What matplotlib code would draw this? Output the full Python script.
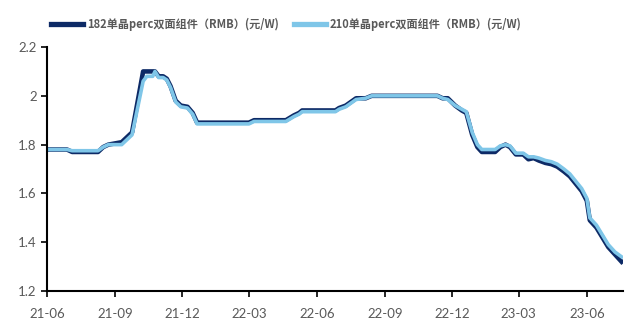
import numpy as np
import pandas as pd
import matplotlib
matplotlib.use("Agg")
import matplotlib.pyplot as plt
import matplotlib.dates as mdates
from matplotlib.ticker import FuncFormatter

plt.rcParams['font.family'] = ['Lato', 'Noto Sans CJK SC', 'DejaVu Sans']

# data
dates = [
    "2021-06-01", "2021-06-28", "2021-07-05", "2021-08-09", "2021-08-16", "2021-08-23",
    "2021-09-10", "2021-09-24", "2021-10-09", "2021-10-14", "2021-10-22", "2021-10-25",
    "2021-10-30", "2021-11-05", "2021-11-10", "2021-11-15", "2021-11-22", "2021-11-29",
    "2021-12-08", "2021-12-15", "2021-12-21", "2022-03-01", "2022-03-08", "2022-04-20",
    "2022-05-01", "2022-05-08", "2022-05-12", "2022-06-26", "2022-07-01", "2022-07-10",
    "2022-07-24", "2022-08-06", "2022-08-14", "2022-11-11", "2022-11-18", "2022-11-25",
    "2022-12-05", "2022-12-14", "2022-12-20", "2022-12-28", "2023-01-04", "2023-01-10",
    "2023-01-28", "2023-02-04", "2023-02-11", "2023-02-17", "2023-02-25", "2023-03-07",
    "2023-03-14", "2023-03-21", "2023-03-28", "2023-04-06", "2023-04-14", "2023-04-22",
    "2023-05-01", "2023-05-09", "2023-05-17", "2023-05-25", "2023-06-01", "2023-06-05",
    "2023-06-14", "2023-06-22", "2023-06-30", "2023-07-09", "2023-07-18",
]
price_182 = [
    1.78, 1.78, 1.77, 1.77, 1.79, 1.80,
    1.81, 1.85, 2.10, 2.10, 2.10, 2.10,
    2.08, 2.08, 2.07, 2.04, 1.98, 1.96,
    1.955, 1.93, 1.89, 1.89, 1.90, 1.90,
    1.92, 1.93, 1.94, 1.94, 1.95, 1.96,
    1.99, 1.99, 2.00, 2.00, 1.99, 1.99,
    1.96, 1.94, 1.93, 1.84, 1.79, 1.77,
    1.77, 1.79, 1.80, 1.79, 1.76, 1.76,
    1.74, 1.745, 1.735, 1.725, 1.72, 1.71,
    1.69, 1.67, 1.64, 1.61, 1.57, 1.49,
    1.46, 1.42, 1.38, 1.35, 1.32,
]
price_210 = [
    1.78, 1.78, 1.775, 1.775, 1.79, 1.80,
    1.80, 1.84, 2.06, 2.08, 2.08, 2.10,
    2.075, 2.075, 2.065, 2.035, 1.975, 1.955,
    1.95, 1.925, 1.885, 1.885, 1.895, 1.895,
    1.915, 1.925, 1.935, 1.935, 1.945, 1.955,
    1.985, 1.99, 2.00, 2.00, 1.99, 1.985,
    1.96, 1.945, 1.935, 1.85, 1.80, 1.78,
    1.78, 1.795, 1.80, 1.795, 1.765, 1.765,
    1.75, 1.75, 1.745, 1.735, 1.73, 1.72,
    1.70, 1.68, 1.65, 1.62, 1.58, 1.50,
    1.47, 1.43, 1.39, 1.36, 1.34,
]
labels = ["182单晶perc双面组件（RMB）(元/W)", "210单晶perc双面组件（RMB）(元/W)"]
tick_dates = ["2021-06-01", "2021-09-01", "2021-12-01", "2022-03-01", "2022-06-01",
              "2022-09-01", "2022-12-01", "2023-03-01", "2023-06-01"]

x = pd.to_datetime(dates)

fig = plt.figure(figsize=(6.3, 3.29), dpi=100)
ax = fig.add_axes([0.0746, 0.1155, 0.9144, 0.7415])

ax.plot(x, price_182, color='#0d2a66', linewidth=3.3, label=labels[0], solid_joinstyle='round')
ax.plot(x, price_210, color='#7fc6e8', linewidth=2.6, label=labels[1], solid_joinstyle='round')

ax.set_ylim(1.2, 2.2)
ax.set_yticks([1.2, 1.4, 1.6, 1.8, 2.0, 2.2])
ax.yaxis.set_major_formatter(FuncFormatter(lambda v, p: f"{v:g}"))
ax.set_xlim(pd.Timestamp("2021-06-01"), pd.Timestamp("2023-07-20"))
ax.set_xticks(pd.to_datetime(tick_dates))
ax.xaxis.set_major_formatter(mdates.DateFormatter("%y-%m"))

for s in ['top', 'right']:
    ax.spines[s].set_visible(False)
for s in ['left', 'bottom']:
    ax.spines[s].set_linewidth(1.5)
    ax.spines[s].set_color('black')
ax.tick_params(axis='both', direction='out', length=4, width=1.2, colors='black',
               labelcolor='#595959', labelsize=9.5)
ax.tick_params(axis='x', pad=8)

leg = fig.legend(loc='center', bbox_to_anchor=(0.455, 0.927), ncol=2, frameon=False,
                 handlelength=2.8, columnspacing=1.4, handletextpad=0.4,
                 prop={'family': ['Noto Sans CJK SC', 'DejaVu Sans'], 'size': 8, 'weight': 'bold'})
for line in leg.get_lines():
    line.set_linewidth(3.8)
for t in leg.get_texts():
    t.set_color('#595959')

fig.savefig("out.png", dpi=100)
